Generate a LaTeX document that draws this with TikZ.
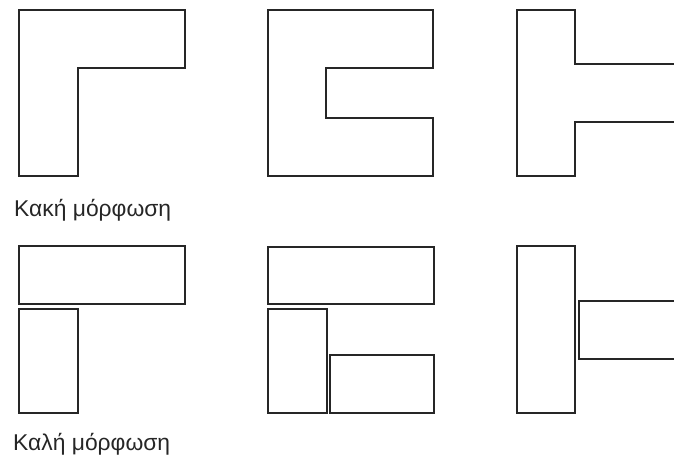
\documentclass[tikz,border=0pt]{standalone}
\usepackage{fontspec}
\setmainfont{Liberation Sans}
\usepackage{tikz}
\usetikzlibrary{positioning}

\begin{document}
\begin{tikzpicture}[x=0.03cm, y=-0.03cm,
  outline/.style={draw=black!85, line width=1.5pt, line join=miter},
  caption/.style={anchor=base west, inner sep=0pt, font=\fontsize{19.5}{22}\selectfont, text=black!85}]
  \clip (0,0) rectangle (674,455);
  % bad forms
  \draw[outline] (19,10) -- (185,10) -- (185,68) -- (78,68) -- (78,176) -- (19,176) -- cycle;
  \draw[outline] (268,10) -- (433,10) -- (433,68) -- (326,68) -- (326,118) -- (433,118) -- (433,176) -- (268,176) -- cycle;
  \draw[outline] (700,64) -- (575,64) -- (575,10) -- (517,10) -- (517,176) -- (575,176) -- (575,122) -- (700,122);
  \node[caption] (bad) at (14,216) {Κακή μόρφωση};
  % good forms
  \draw[outline] (19,246) rectangle (185,304);
  \draw[outline] (19,309) rectangle (78,413);
  \draw[outline] (268,247) rectangle (434,304);
  \draw[outline] (268,309) rectangle (327,413);
  \draw[outline] (330,355) rectangle (434,413);
  \draw[outline] (517,246) rectangle (575,413);
  \draw[outline] (700,301) -- (579,301) -- (579,359) -- (700,359);
  \node[caption] (good) at (13,450) {Καλή μόρφωση};
\end{tikzpicture}
\end{document}
